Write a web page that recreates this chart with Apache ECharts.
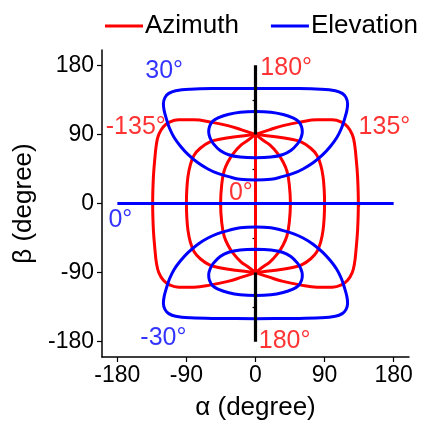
<!DOCTYPE html>
<html>
<head>
<meta charset="utf-8">
<script src="https://cdn.jsdelivr.net/npm/echarts@6/dist/echarts.min.js"></script>
<style>html,body{margin:0;padding:0;background:#fff}#c{width:424px;height:426px}</style>
</head>
<body>
<div id="c"></div>
<script>
// ---- data (α, β in degrees) ----
const xTicks = [-180, -90, 0, 90, 180];
const yTicks = [-180, -90, 0, 90, 180];
const minorTicks = [-135, -45, 45, 135];

// Azimuth contours (red)
const az0 = [[0, -90], [0, 90]];
const az45 = [[0,90],[9,83],[19,76],[29,65],[36,54],[41,42],[44,25],[45.5,0],[44,-25],[41,-42],[36,-54],[29,-65],[19,-76],[9,-83],[0,-90]];
const azM45 = [[0,90],[-9,83],[-19,76],[-29,65],[-36,54],[-41,42],[-44,25],[-45.5,0],[-44,-25],[-41,-42],[-36,-54],[-29,-65],[-19,-76],[-9,-83],[0,-90]];
const az90 = [[0,90],[26,87],[45,84],[60,80],[72,72],[80,63],[85,50],[88,35],[89.5,18],[90,0],[89.5,-18],[88,-35],[85,-50],[80,-63],[72,-72],[60,-80],[45,-84],[26,-87],[0,-90]];
const azM90 = [[0,90],[-26,87],[-45,84],[-60,80],[-72,72],[-80,63],[-85,50],[-88,35],[-89.5,18],[-90,0],[-89.5,-18],[-88,-35],[-85,-50],[-80,-63],[-72,-72],[-60,-80],[-45,-84],[-26,-87],[0,-90]];
const az135 = [[0,90],[18,96],[36,101.5],[58,106],[80,109],[100,109],[112,106],[120,100],[126,90],[129,78],[131,60],[133,35],[134,0],[133,-35],[131,-60],[129,-78],[126,-90],[120,-100],[112,-106],[100,-109],[80,-109],[58,-106],[36,-101.5],[18,-96],[0,-90]];
const azM135 = [[0,90],[-18,96],[-36,101.5],[-58,106],[-80,109],[-100,109],[-112,106],[-120,100],[-126,90],[-129,78],[-131,60],[-133,35],[-134,0],[-133,-35],[-131,-60],[-129,-78],[-126,-90],[-120,-100],[-112,-106],[-100,-109],[-80,-109],[-58,-106],[-36,-101.5],[-18,-96],[0,-90]];
const az180Top = [[0, 90], [0, 180]];
const az180Bottom = [[0, -90], [0, -180]];

// Elevation contours (blue)
const el0 = [[-180, 0], [180, 0]];
const el30 = [[0,30.5],[20,31.5],[35,35],[50,39.5],[62,45],[75,53],[88,64],[98,75],[106,86],[112,98],[116,110],[119,121],[120,130],[118,138],[113,143.5],[104,147],[85,149],[50,149.8],[0,150],[-50,149.8],[-85,149],[-104,147],[-113,143.5],[-118,138],[-120,130],[-119,121],[-116,110],[-112,98],[-106,86],[-98,75],[-88,64],[-75,53],[-62,45],[-50,39.5],[-35,35],[-20,31.5],[0,30.5]];
const el60 = [[0,59.5],[20,60.5],[35,63.5],[46,69],[55,78],[59,85],[61,93],[60,100],[56,107],[48,112],[36,116],[20,119],[0,120],[-20,119],[-36,116],[-48,112],[-56,107],[-60,100],[-61,93],[-59,85],[-55,78],[-46,69],[-35,63.5],[-20,60.5],[0,59.5]];
const elM30 = [[0,-30.5],[20,-31.5],[35,-35],[50,-39.5],[62,-45],[75,-53],[88,-64],[98,-75],[106,-86],[112,-98],[116,-110],[119,-121],[120,-130],[118,-138],[113,-143.5],[104,-147],[85,-149],[50,-149.8],[0,-150],[-50,-149.8],[-85,-149],[-104,-147],[-113,-143.5],[-118,-138],[-120,-130],[-119,-121],[-116,-110],[-112,-98],[-106,-86],[-98,-75],[-88,-64],[-75,-53],[-62,-45],[-50,-39.5],[-35,-35],[-20,-31.5],[0,-30.5]];
const elM60 = [[0,-59.5],[20,-60.5],[35,-63.5],[46,-69],[55,-78],[59,-85],[61,-93],[60,-100],[56,-107],[48,-112],[36,-116],[20,-119],[0,-120],[-20,-119],[-36,-116],[-48,-112],[-56,-107],[-60,-100],[-61,-93],[-59,-85],[-55,-78],[-46,-69],[-35,-63.5],[-20,-60.5],[0,-59.5]];

// curve annotations
const annoText = ['180°', '180°', '135°', '-135°', '0°', '0°', '30°', '-30°'];
const annoGroup = ['az', 'az', 'az', 'az', 'az', 'el', 'el', 'el'];
const annoAt = [[40, 177], [38, -179], [168, 99.5], [-156, 99], [-19, 13], [-176, -22], [-119, 172], [-120, -176]];

// ---- chart ----
const FONT = "'Liberation Sans', Arial, sans-serif";
const RED = '#ff0000', BLUE = '#0000ff';

function curve(name, data, color, width, z) {
  return {
    type: 'line', name: name, data: data, smooth: 0.4, symbol: 'none',
    lineStyle: { color: color, width: width }, itemStyle: { color: color },
    silent: true, z: z, animation: false
  };
}

const series = [];
[az0, az45, azM45, az90, azM90, az135, azM135].forEach(d => series.push(curve('Azimuth', d, RED, 3, 2)));
[el0, el30, el60, elM30, elM60].forEach(d => series.push(curve('Elevation', d, BLUE, 3, 3)));
[az180Top, az180Bottom].forEach(d => {
  const s = curve('', d, '#000', 3.2, 4); s.smooth = false; series.push(s);
});
series.push({
  type: 'scatter', symbolSize: 0, silent: true, z: 5, animation: false,
  data: annoAt.map((p, i) => ({
    value: p,
    label: { formatter: annoText[i], color: annoGroup[i] === 'az' ? RED : BLUE }
  })),
  label: { show: true, position: 'inside', fontSize: 25, fontFamily: FONT, align: 'center', verticalAlign: 'middle' }
});

const axisCommon = {
  type: 'value', min: -200, max: 200,
  splitLine: { show: false },
  axisLine: { show: true, onZero: false, lineStyle: { color: '#000', width: 1.5 } }
};

const option = {
  backgroundColor: '#fff',
  animation: false,
  textStyle: { fontFamily: FONT },
  legend: {
    data: [
      { name: 'Azimuth', icon: 'rect', itemStyle: { color: RED } },
      { name: 'Elevation', icon: 'rect', itemStyle: { color: BLUE } }
    ],
    orient: 'horizontal', left: 105, top: 13, padding: 0, width: 330,
    itemWidth: 38, itemHeight: 3, itemGap: 32,
    textStyle: { fontSize: 26, color: '#000', fontFamily: FONT, padding: [0, 0, 0, -3] }
  },
  grid: { left: 102, top: 50, width: 307, height: 307, containLabel: false },
  xAxis: [
    Object.assign({}, axisCommon, {
      position: 'bottom',
      name: 'α (degree)', nameLocation: 'middle', nameGap: 38,
      nameTextStyle: { fontSize: 26, color: '#000', fontFamily: FONT },
      axisTick: { show: true, inside: false, length: 5, customValues: xTicks, lineStyle: { color: '#000', width: 1.2 } },
      axisLabel: { show: true, margin: 7, fontSize: 23, color: '#000', fontFamily: FONT, customValues: xTicks }
    }),
    Object.assign({}, axisCommon, {
      position: 'bottom', axisLine: { show: false },
      axisTick: { show: true, inside: false, length: 3, customValues: minorTicks, lineStyle: { color: '#000', width: 1.2 } },
      axisLabel: { show: false }
    })
  ],
  yAxis: [
    Object.assign({}, axisCommon, {
      position: 'left',
      name: 'β (degree)', nameLocation: 'middle', nameGap: 64, nameRotate: 90,
      nameTextStyle: { fontSize: 26, color: '#000', fontFamily: FONT },
      axisTick: { show: true, inside: false, length: 5, customValues: yTicks, lineStyle: { color: '#000', width: 1.2 } },
      axisLabel: { show: true, margin: 8, fontSize: 23, color: '#000', fontFamily: FONT, customValues: yTicks }
    }),
    Object.assign({}, axisCommon, {
      position: 'left', axisLine: { show: false },
      axisTick: { show: true, inside: false, length: 3, customValues: minorTicks, lineStyle: { color: '#000', width: 1.2 } },
      axisLabel: { show: false }
    })
  ],
  series: series
};

const chart = echarts.init(document.getElementById('c'), null, { renderer: 'canvas' });
chart.setOption(option);
</script>
</body>
</html>
